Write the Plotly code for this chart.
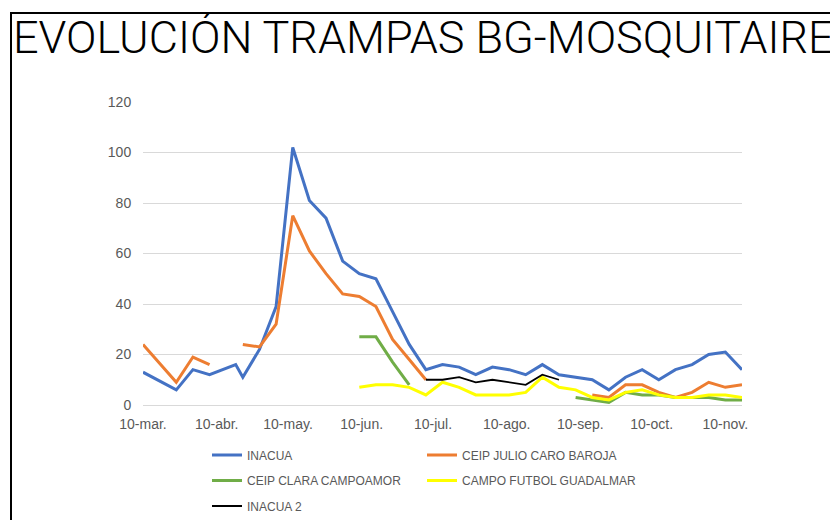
import plotly.graph_objects as go

# ---------------- data ----------------
dates = [
    "2019-03-10", "2019-03-24", "2019-03-31", "2019-04-07", "2019-04-18", "2019-04-21",
    "2019-04-28", "2019-05-05", "2019-05-12", "2019-05-19", "2019-05-26", "2019-06-02",
    "2019-06-09", "2019-06-16", "2019-06-23", "2019-06-30", "2019-07-07", "2019-07-14",
    "2019-07-21", "2019-07-28", "2019-08-04", "2019-08-11", "2019-08-18", "2019-08-25",
    "2019-09-01", "2019-09-08", "2019-09-15", "2019-09-22", "2019-09-29", "2019-10-06",
    "2019-10-13", "2019-10-20", "2019-10-27", "2019-11-03", "2019-11-10", "2019-11-17",
]
N = None
inacua = [13, 6, 14, 12, 16, 11, 22, 39, 102, 81, 74, 57, 52, 50, 37, 24, 14, 16,
          15, 12, 15, 14, 12, 16, 12, 11, 10, 6, 11, 14, 10, 14, 16, 20, 21, 14]
julio_caro = [24, 9, 19, 16, N, 24, 23, 32, 75, 61, 52, 44, 43, 39, 26, 18, 10, N,
              N, N, N, N, N, N, N, N, 4, 3, 8, 8, 5, 3, 5, 9, 7, 8]
clara_campoamor = [N, N, N, N, N, N, N, N, N, N, N, N, 27, 27, 17, 8, N, N,
                   N, N, N, N, N, N, N, 3, 2, 1, 5, 4, 4, 3, 3, 3, 2, 2]
campo_guadalmar = [N, N, N, N, N, N, N, N, N, N, N, N, 7, 8, 8, 7, 4, 9,
                   7, 4, 4, 4, 5, 11, 7, 6, 3, 2, 5, 6, 4, 3, 3, 4, 4, 3]
inacua2 = [N, N, N, N, N, N, N, N, N, N, N, N, N, N, N, N, 10, 10,
           11, 9, 10, 9, 8, 12, 10, N, N, N, N, N, N, N, N, N, N, N]

series_names = ["INACUA", "CEIP JULIO CARO BAROJA", "CEIP CLARA CAMPOAMOR",
                "CAMPO FUTBOL GUADALMAR", "INACUA 2"]
series_values = [inacua, julio_caro, clara_campoamor, campo_guadalmar, inacua2]
series_colors = ["#4472C4", "#ED7D31", "#70AD47", "#FFFF00", "#000000"]
series_widths = [3, 3, 3, 3, 1.8]

tick_dates = ["2019-03-10", "2019-04-10", "2019-05-10", "2019-06-10", "2019-07-10",
              "2019-08-10", "2019-09-10", "2019-10-10", "2019-11-10"]
tick_labels = ["10-mar.", "10-abr.", "10-may.", "10-jun.", "10-jul.",
               "10-ago.", "10-sep.", "10-oct.", "10-nov."]

title_text = "EVOLUCIÓN TRAMPAS BG-MOSQUITAIRE"

# ---------------- figure ----------------
# the page body adds an 8px margin, so the figure is sized to the remaining area
OFF = 8
W, H = 838 - OFF, 520 - OFF
ML, MR, MT, MB = 135, 96, 94, 115

fig = go.Figure()
for name, vals, col, lw in zip(series_names, series_values, series_colors, series_widths):
    fig.add_trace(go.Scatter(
        x=dates, y=vals, name=name, mode="lines",
        line=dict(color=col, width=lw), connectgaps=False,
        legendgroup=name,
    ))

pw = W - ML - MR
ph = H - MT - MB


def px_x(px):
    return (px - ML) / pw


def px_y(py):
    return (H - MB - py) / ph


txt = "#595959"
fig.update_layout(
    width=W, height=H,
    margin=dict(l=ML, r=MR, t=MT, b=MB, pad=0, autoexpand=False),
    paper_bgcolor="white", plot_bgcolor="white",
    font=dict(family="Liberation Sans, Arial, sans-serif", color=txt, size=14),
    title=dict(
        text=title_text, x=5 / W, xanchor="left", xref="container",
        y=1 - 29 / H, yanchor="middle", yref="container",
        font=dict(family="Roboto, Liberation Sans, sans-serif",
                  size=45, weight=300, color="#000000"),
    ),
    xaxis=dict(
        type="date", range=["2019-03-10", "2019-11-17"],
        tickmode="array", tickvals=tick_dates, ticktext=tick_labels,
        showgrid=False, showline=False, zeroline=False,
        ticks="outside", ticklen=6, tickcolor="rgba(0,0,0,0)",
        tickfont=dict(size=14, color=txt),
    ),
    yaxis=dict(
        range=[0, 120], dtick=20, tick0=0,
        showgrid=True, gridcolor="#D9D9D9", gridwidth=1,
        zeroline=True, zerolinecolor="#D9D9D9", zerolinewidth=1,
        showline=False,
        ticks="outside", ticklen=8, tickcolor="rgba(0,0,0,0)",
        tickfont=dict(size=14, color=txt),
    ),
    legend=dict(
        orientation="h", x=px_x(199), xanchor="left",
        y=px_y(432.5), yanchor="top",
        entrywidth=170, entrywidthmode="pixels",
        tracegroupgap=6.5,
        font=dict(size=12, color=txt), bgcolor="rgba(0,0,0,0)",
        traceorder="grouped",
    ),
    showlegend=True,
)

# frame lines of the slide (top and left)
fig.add_shape(type="line", xref="paper", yref="paper",
              x0=px_x(2), x1=px_x(W + 5), y0=px_y(5), y1=px_y(5),
              line=dict(color="#000000", width=2))
fig.add_shape(type="line", xref="paper", yref="paper",
              x0=px_x(3), x1=px_x(3), y0=px_y(4), y1=px_y(H + 5),
              line=dict(color="#000000", width=2))

fig.write_html("out.html")
